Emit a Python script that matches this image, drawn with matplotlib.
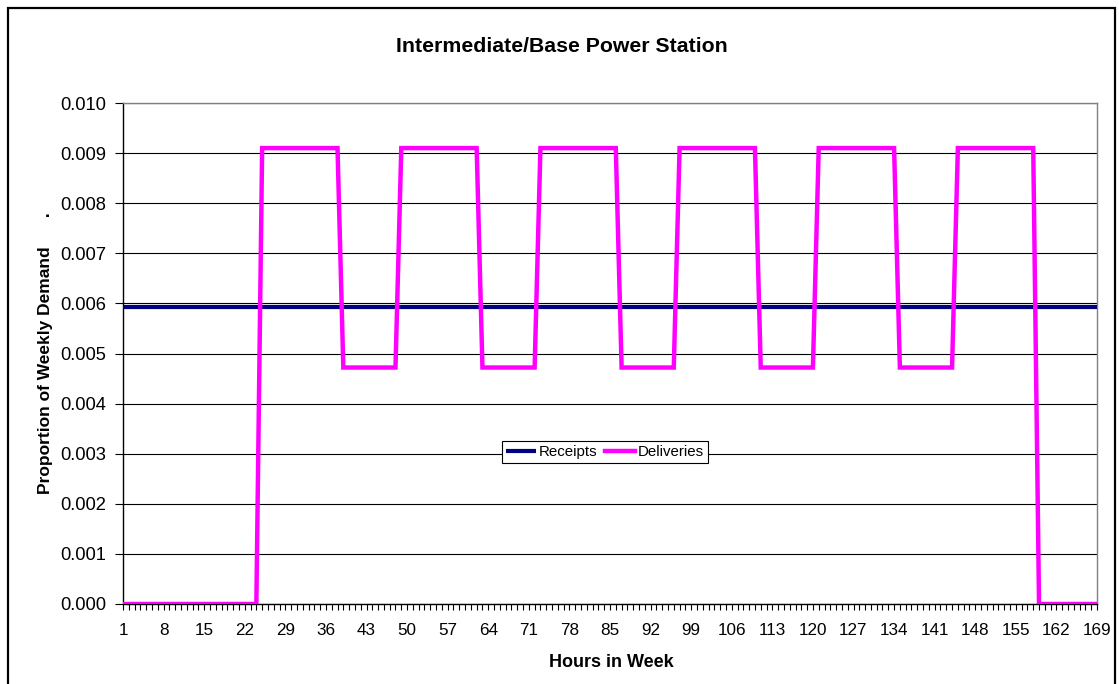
import matplotlib.pyplot as plt
from matplotlib.patches import Rectangle

plt.rcParams['font.family'] = ['Liberation Sans', 'DejaVu Sans']

# hours of the week (category axis)
hours = list(range(1, 170))

# receipts: flat share of weekly demand
receipts = [0.00592] * 169

# deliveries: off for first day, then 14 h high / 10 h low, off at the end
deliveries = ([0.0] * 24
              + [0.0091] * 14 + [0.00472] * 10
              + [0.0091] * 14 + [0.00472] * 10
              + [0.0091] * 14 + [0.00472] * 10
              + [0.0091] * 14 + [0.00472] * 10
              + [0.0091] * 14 + [0.00472] * 10
              + [0.0091] * 14
              + [0.0] * 11)

y_ticks = [0.000, 0.001, 0.002, 0.003, 0.004, 0.005, 0.006, 0.007, 0.008, 0.009, 0.010]


def main():
    W, H = 1119, 684
    fig = plt.figure(figsize=(W / 100, H / 100), dpi=100)
    ax = fig.add_axes([123 / W, 1 - 604 / H, (1097 - 123) / W, (604 - 103) / H])

    idx = list(range(len(hours)))
    ax.plot(idx, receipts, color='#000080', lw=3.0, label='Receipts', zorder=3,
            solid_capstyle='butt')
    ax.plot(idx, deliveries, color='#FF00FF', lw=3.2, label='Deliveries', zorder=4,
            solid_joinstyle='miter')

    ax.set_xlim(0, len(hours) - 1)
    ax.set_ylim(0, 0.010)
    ax.set_yticks(y_ticks)
    ax.set_yticklabels([f"{v:.3f}" for v in y_ticks], fontsize=13.2)
    ax.set_xticks(idx)
    ax.set_xticklabels([str(h) if (h - 1) % 7 == 0 else '' for h in hours], fontsize=12.3)
    ax.tick_params(axis='x', direction='out', length=4, width=0.8, pad=10)
    ax.tick_params(axis='y', direction='out', length=6, width=0.8, pad=6)

    ax.grid(axis='y', color='#000000', lw=0.8)
    ax.set_axisbelow(True)
    for s in ['left', 'bottom']:
        ax.spines[s].set_color('black')
        ax.spines[s].set_linewidth(1.0)
    for s in ['top', 'right']:
        ax.spines[s].set_color('#808080')
        ax.spines[s].set_linewidth(1.0)

    ax.set_xlabel('Hours in Week', fontsize=13, fontweight='bold')
    ax.set_ylabel('Proportion of Weekly Demand      .', fontsize=12.5, fontweight='bold')
    ax.xaxis.set_label_coords((611 - 123) / (1097 - 123), -(654 - 604) / (604 - 103))
    ax.yaxis.set_label_coords(-(123 - 53) / (1097 - 123), 0.5)

    fig.text(562 / W, 1 - 46 / H, 'Intermediate/Base Power Station',
             fontsize=15.3, fontweight='bold', ha='center', va='center')

    leg = ax.legend(loc='center', bbox_to_anchor=((605 - 123) / (1097 - 123), (604 - 452) / (604 - 103)),
                    ncol=2, fontsize=10.8, frameon=True, fancybox=False, framealpha=1,
                    edgecolor='black', handlelength=2.0, handletextpad=0.2,
                    columnspacing=0.5, borderpad=0.25, borderaxespad=0)
    leg.get_frame().set_linewidth(0.8)

    # outer chart border
    fig.patches.append(Rectangle((8 / W, -0.05), (1115 - 8) / W, 1 - 8 / H + 0.05,
                                 transform=fig.transFigure, fill=False,
                                 edgecolor='black', lw=1.6))

    fig.savefig('out.png', dpi=100)


if __name__ == '__main__':
    main()
